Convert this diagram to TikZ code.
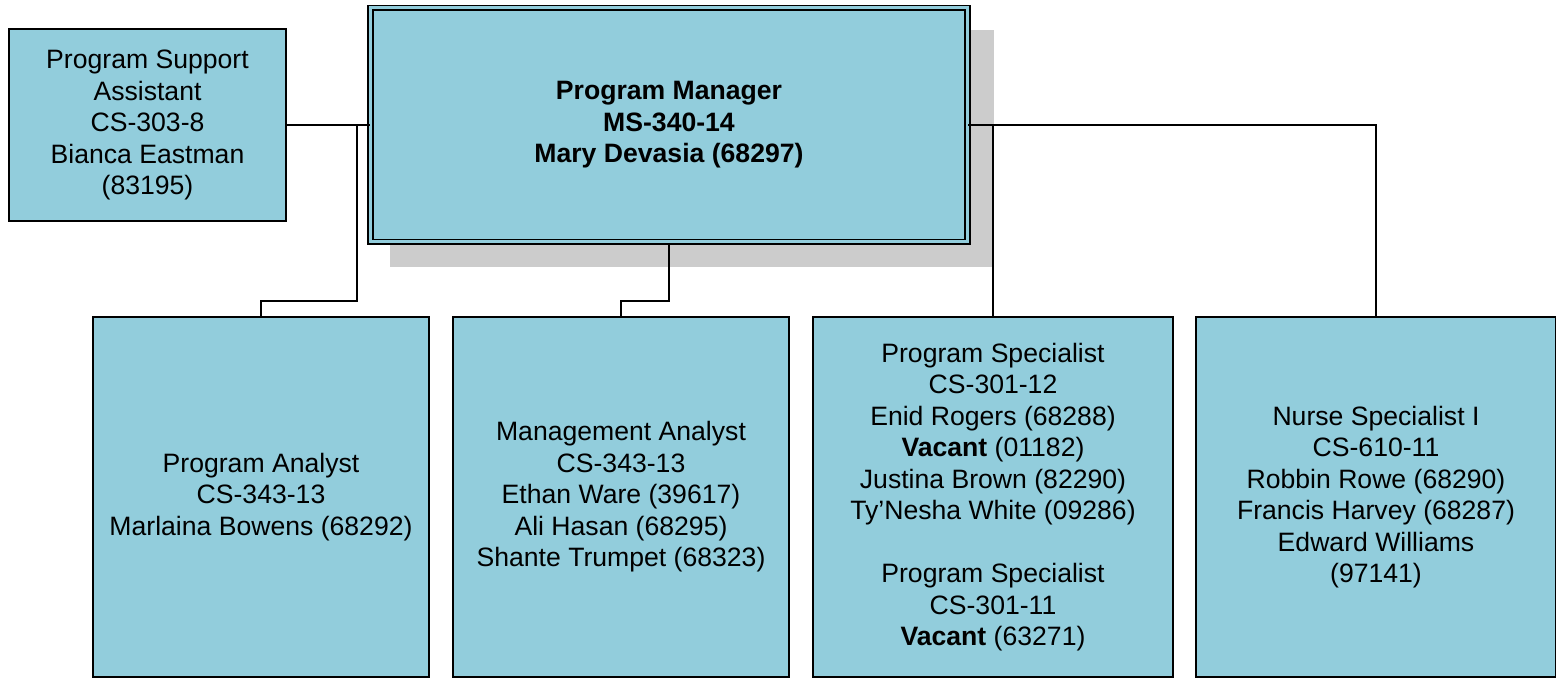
\documentclass[tikz,border=0pt]{standalone}
\usepackage{fontspec}
\setmainfont{Liberation Sans}
\usetikzlibrary{calc,shadows}
\definecolor{boxblue}{HTML}{92CDDC}
\definecolor{shadowgray}{HTML}{CCCCCC}
\tikzset{
    org chart/.style = {x=0.5pt, y=-0.5pt},
    line/.style      = {line width=1pt},
    post/.style      = {draw, line width=1pt, fill=boxblue, align=center,
                        inner sep=2pt,
                        font=\fontsize{13.3pt}{15.75pt}\selectfont},
    staff/.style     = {post, minimum width=138.5pt, minimum height=96pt},
    unit/.style      = {post, minimum width=168pt, minimum height=180pt},
    wide unit/.style = {unit, minimum width=180pt},
    head/.style      = {post, draw=black, line width=0.9pt, double=boxblue,
                        double distance=1.5pt,
                        minimum width=298.5pt, minimum height=117pt,
                        font=\fontsize{13.3pt}{15.75pt}\selectfont\bfseries,
                        drop shadow={shadow xshift=11.5pt, shadow yshift=-11.5pt,
                                     shadow scale=1.012,
                                     fill=shadowgray, opacity=1}}
}

\begin{document}
\begin{tikzpicture}[org chart]
\useasboundingbox (0,0) rectangle (1556,678);

% ================= Top row =================
\node[head]  (pm)  at (669, 125) {Program Manager\\ MS-340-14\\ Mary Devasia (68297)};
\node[staff] (psa) at (147.5, 125) {Program Support\\ Assistant\\ CS-303-8\\ Bianca Eastman\\ (83195)};

% ================= Bottom row =================
\node[unit]      (pa) at (261, 497) {Program Analyst\\ CS-343-13\\ Marlaina Bowens (68292)};
\node[unit]      (ma) at (621, 497) {Management Analyst\\ CS-343-13\\ Ethan Ware (39617)\\
                                     Ali Hasan (68295)\\ Shante Trumpet (68323)};
\node[wide unit] (ps) at (993, 497) {Program Specialist\\ CS-301-12\\ Enid Rogers (68288)\\
                                     \textbf{Vacant} (01182)\\ Justina Brown (82290)\\
                                     Ty’Nesha White (09286)\\[15.75pt]
                                     Program Specialist\\ CS-301-11\\ \textbf{Vacant} (63271)};
\node[wide unit] (ns) at (1376, 497) {Nurse Specialist I\\ CS-610-11\\ Robbin Rowe (68290)\\
                                      Francis Harvey (68287)\\ Edward Williams\\ (97141)};

% ================= Connectors =================
\coordinate (lsplit) at (357, 125);
\draw[line] (psa.east) -- (pm.west);
\draw[line] (lsplit) |- ($(pa.north)+(0,-15)$) -- (pa.north);
\draw[line] (pm.south) |- ($(ma.north)+(0,-15)$) -- (ma.north);
\draw[line] (pm.east) -| (ns.north);
\draw[line] (ps.north |- pm.east) -- (ps.north);

\end{tikzpicture}
\end{document}
